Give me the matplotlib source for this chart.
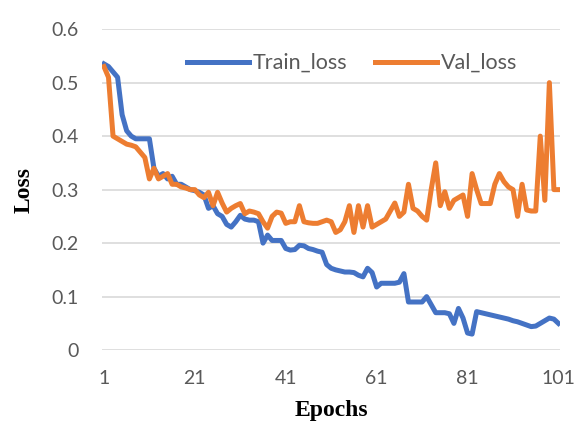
import numpy as np
from matplotlib import pyplot as plt

##############################################################################################
##                          loss per epoch
##############################################################################################
epochs = np.arange(1, 102)

train_loss = [0.535, 0.53, 0.52, 0.51, 0.44, 0.41, 0.40, 0.395, 0.395, 0.395,
              0.395, 0.34, 0.325, 0.33, 0.32, 0.325, 0.31, 0.31, 0.305, 0.30,
              0.298, 0.295, 0.29, 0.265, 0.27, 0.255, 0.25, 0.235, 0.23, 0.24,
              0.252, 0.245, 0.243, 0.243, 0.24, 0.20, 0.215, 0.205, 0.205, 0.205,
              0.19, 0.187, 0.188, 0.196, 0.195, 0.19, 0.188, 0.185, 0.183, 0.16,
              0.153, 0.15, 0.148, 0.146, 0.146, 0.145, 0.14, 0.137, 0.153, 0.145,
              0.118, 0.125, 0.125, 0.125, 0.125, 0.127, 0.143, 0.09, 0.09, 0.09,
              0.09, 0.10, 0.085, 0.07, 0.07, 0.07, 0.068, 0.05, 0.078, 0.06,
              0.032, 0.03, 0.072, 0.07, 0.068, 0.066, 0.064, 0.062, 0.06, 0.058,
              0.055, 0.053, 0.05, 0.047, 0.044, 0.045, 0.05, 0.055, 0.06, 0.058,
              0.05]

val_loss = [0.53, 0.51, 0.40, 0.395, 0.39, 0.385, 0.383, 0.38, 0.37, 0.36,
            0.32, 0.34, 0.32, 0.325, 0.33, 0.31, 0.31, 0.305, 0.303, 0.30,
            0.30, 0.29, 0.285, 0.295, 0.27, 0.295, 0.275, 0.258, 0.265, 0.27,
            0.274, 0.255, 0.26, 0.258, 0.255, 0.24, 0.228, 0.25, 0.258, 0.256,
            0.237, 0.24, 0.24, 0.27, 0.24, 0.238, 0.237, 0.237, 0.24, 0.243,
            0.24, 0.22, 0.225, 0.24, 0.27, 0.22, 0.27, 0.23, 0.27, 0.23,
            0.235, 0.24, 0.245, 0.26, 0.275, 0.25, 0.258, 0.31, 0.265, 0.26,
            0.25, 0.243, 0.30, 0.35, 0.27, 0.296, 0.265, 0.28, 0.285, 0.29,
            0.25, 0.33, 0.30, 0.274, 0.274, 0.274, 0.31, 0.33, 0.315, 0.305,
            0.30, 0.25, 0.31, 0.262, 0.26, 0.26, 0.40, 0.28, 0.50, 0.30,
            0.30]

xticks = [1, 21, 41, 61, 81, 101]
yticks = [0, 0.1, 0.2, 0.3, 0.4, 0.5, 0.6]

##############################################################################################
fig = plt.figure(figsize=(5.77, 4.41), dpi=100)
ax = fig.add_axes([0.177, 0.206, 0.794, 0.728])

ax.plot(epochs, train_loss, color="#4472C4", lw=3.6, label="Train_loss", solid_joinstyle="round")
ax.plot(epochs, val_loss, color="#ED7D31", lw=3.6, label="Val_loss", solid_joinstyle="round")

ax.set_xlim(0.6, 101.4)
ax.set_ylim(0, 0.6)
ax.set_xticks(xticks)
ax.set_yticks(yticks)
ax.set_yticklabels(["0", "0.1", "0.2", "0.3", "0.4", "0.5", "0.6"])

ax.yaxis.grid(True, color="#D9D9D9", lw=1.2)
ax.set_axisbelow(True)
for s in ax.spines.values():
    s.set_visible(False)
ax.tick_params(axis="both", length=0, labelsize=14, labelcolor="#595959")
ax.tick_params(axis="y", pad=17)
ax.tick_params(axis="x", pad=14)
for lab in ax.get_xticklabels() + ax.get_yticklabels():
    lab.set_fontfamily("Lato")

ax.set_xlabel("Epochs", fontfamily="Liberation Serif", fontweight="bold", fontsize=17, labelpad=10)
ax.set_ylabel("Loss", fontfamily="Liberation Serif", fontweight="bold", fontsize=17, labelpad=12)

leg = ax.legend(loc="center", bbox_to_anchor=(0.545, 0.894), ncol=2, frameon=False,
                prop={"family": "Lato", "size": 15.5}, handlelength=2.9,
                columnspacing=1.3, handletextpad=0.15)
for t in leg.get_texts():
    t.set_color("#595959")

plt.savefig("out.png", dpi=100)
